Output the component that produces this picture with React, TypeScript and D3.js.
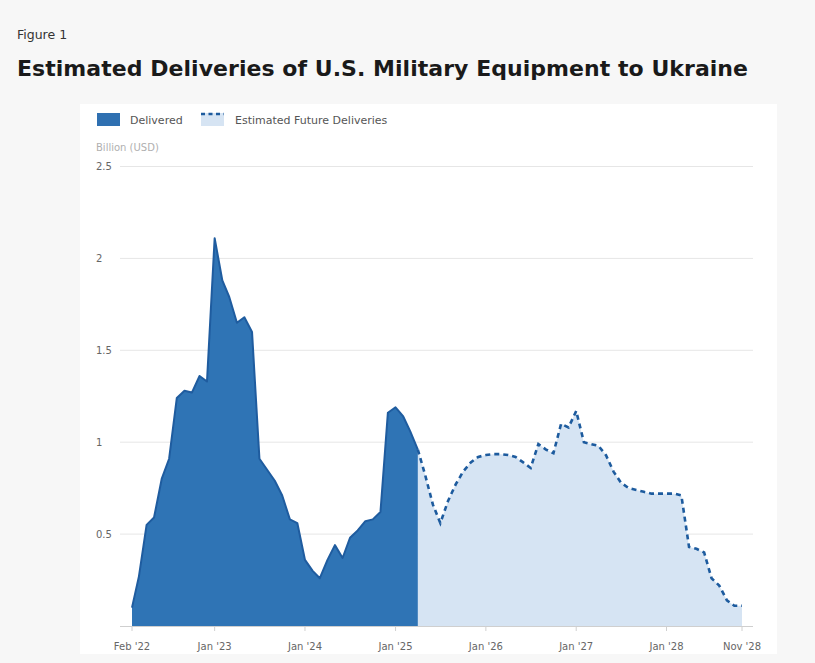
import React from "react";
import * as d3 from "d3";

// ---- data ----
const startMonth = "2022-02";
const deliveredValues = [
  0.1, 0.27, 0.55, 0.59, 0.8, 0.91, 1.24, 1.28, 1.27, 1.36, 1.33,
  2.11, 1.88, 1.79, 1.65, 1.68, 1.6, 0.91, 0.85, 0.79, 0.71, 0.58, 0.56,
  0.36, 0.3, 0.26, 0.36, 0.44, 0.37, 0.48, 0.52, 0.57, 0.58, 0.62, 1.16,
  1.19, 1.14, 1.06, 0.96,
];
// future series starts at the last delivered month (Apr 2025)
const futureValues = [
  0.96, 0.82, 0.66, 0.56, 0.68, 0.77, 0.84, 0.89, 0.92,
  0.93, 0.935, 0.935, 0.93, 0.92, 0.89, 0.86, 0.99, 0.96, 0.94, 1.1, 1.08,
  1.17, 1.0, 0.99, 0.98, 0.93, 0.84, 0.78, 0.75, 0.74, 0.73, 0.72, 0.72,
  0.72, 0.72, 0.71, 0.43, 0.42, 0.4, 0.26, 0.22, 0.14, 0.11, 0.11,
];
const yTicks = [0.5, 1, 1.5, 2, 2.5];
const xTickDates = ["2022-02", "2023-01", "2024-01", "2025-01", "2026-01", "2027-01", "2028-01", "2028-11"];
const xTickLabels = ["Feb '22", "Jan '23", "Jan '24", "Jan '25", "Jan '26", "Jan '27", "Jan '28", "Nov '28"];

const parse = d3.timeParse("%Y-%m");
const start = parse(startMonth) as Date;
const monthAt = (i: number) => d3.timeMonth.offset(start, i);

type Pt = { date: Date; value: number };
const delivered: Pt[] = deliveredValues.map((v, i) => ({ date: monthAt(i), value: v }));
const future: Pt[] = futureValues.map((v, i) => ({
  date: monthAt(deliveredValues.length - 1 + i),
  value: v,
}));

const FONT = "'DejaVu Sans', Verdana, sans-serif";

export default function App() {
  const W = 815;
  const H = 663;
  const x = d3
    .scaleTime()
    .domain([parse("2022-02") as Date, parse("2028-11") as Date])
    .range([132, 742]);
  const y = d3.scaleLinear().domain([0, 2.5]).range([626, 166.5]);

  const area = d3
    .area<Pt>()
    .x((d) => x(d.date))
    .y0(y(0))
    .y1((d) => y(d.value));
  const line = d3
    .line<Pt>()
    .x((d) => x(d.date))
    .y((d) => y(d.value));

  return (
    <div style={{ position: "absolute", left: 0, top: 0, width: W, height: H }}>
      <svg width={W} height={H} style={{ display: "block" }}>
        <rect x={0} y={0} width={W} height={H} fill="#f7f7f7" />
        <text x={17} y={39} fontFamily={FONT} fontSize={12.5} fill="#333">
          Figure 1
        </text>
        <text
          x={17}
          y={76}
          fontFamily={FONT}
          fontSize={22}
          fontWeight={700}
          fill="#1a1a1a"
          textLength={731}
          lengthAdjust="spacing"
        >
          Estimated Deliveries of U.S. Military Equipment to Ukraine
        </text>

        {/* panel */}
        <rect x={80} y={104} width={697} height={550} fill="#ffffff" />

        {/* legend */}
        <rect x={97} y={113} width={23} height={13} fill="#2f70b1" />
        <text x={130} y={123.5} fontFamily={FONT} fontSize={11} fill="#555">
          Delivered
        </text>
        <rect x={201} y={113} width={23} height={13} fill="#d6e4f3" />
        <line x1={201} x2={224} y1={114} y2={114} stroke="#1d5b9e" strokeWidth={2.5} strokeDasharray="4,3.5" />
        <text x={235} y={123.5} fontFamily={FONT} fontSize={11} fill="#555">
          Estimated Future Deliveries
        </text>
        <text x={96} y={151} fontFamily={FONT} fontSize={10} fill="#b0b0b0">
          Billion (USD)
        </text>

        {/* gridlines */}
        {yTicks.map((t) => (
          <g key={t}>
            <line x1={120} x2={753} y1={y(t)} y2={y(t)} stroke="#e6e6e6" strokeWidth={1} />
            <text x={96} y={y(t) + 3.5} fontFamily={FONT} fontSize={10} fill="#666">
              {t}
            </text>
          </g>
        ))}

        {/* areas */}
        <path d={area(future) || ""} fill="#d6e4f3" />
        <path d={area(delivered) || ""} fill="#2f74b5" />
        <path d={line(delivered) || ""} fill="none" stroke="#1f5c9f" strokeWidth={2} strokeLinejoin="round" />
        <path
          d={line(future) || ""}
          fill="none"
          stroke="#1d5b9e"
          strokeWidth={2.6}
          strokeDasharray="5,4"
        />

        {/* x axis */}
        <line x1={120} x2={753} y1={y(0) + 0.5} y2={y(0) + 0.5} stroke="#cfcfcf" strokeWidth={1.2} />
        {xTickDates.map((s, i) => {
          const xx = x(parse(s) as Date);
          return (
            <g key={s}>
              <line x1={xx} x2={xx} y1={y(0)} y2={y(0) + 5} stroke="#d0d0d0" />
              <text x={xx} y={650} textAnchor="middle" fontFamily={FONT} fontSize={10} fill="#666">
                {xTickLabels[i]}
              </text>
            </g>
          );
        })}
      </svg>
    </div>
  );
}
